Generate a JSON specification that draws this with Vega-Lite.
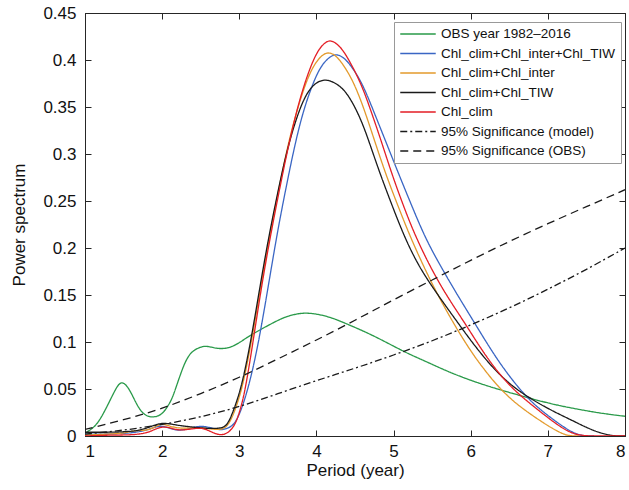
{
  "$schema": "https://vega.github.io/schema/vega-lite/v6.json",
  "width": 540,
  "height": 423,
  "autosize": {"type": "none"},
  "padding": {"left": 85, "top": 13, "right": 4, "bottom": 54},
  "background": "white",
  "config": {
    "font": "Liberation Sans",
    "view": {"stroke": "#262626", "strokeWidth": 1},
    "axis": {
      "domainColor": "#262626",
      "tickColor": "#262626",
      "labelColor": "#111111",
      "titleColor": "#111111",
      "labelFont": "Liberation Sans",
      "titleFont": "Liberation Sans",
      "labelFontSize": 17,
      "titleFontSize": 17,
      "titleFontWeight": "normal",
      "grid": false,
      "tickSize": -6
    }
  },
  "datasets": {
    "spec": [
      {"series": "OBS year 1982–2016", "x": 1.0, "y": 0.003},
      {"series": "OBS year 1982–2016", "x": 1.1, "y": 0.008},
      {"series": "OBS year 1982–2016", "x": 1.19, "y": 0.016},
      {"series": "OBS year 1982–2016", "x": 1.32, "y": 0.037},
      {"series": "OBS year 1982–2016", "x": 1.42, "y": 0.054},
      {"series": "OBS year 1982–2016", "x": 1.48, "y": 0.058},
      {"series": "OBS year 1982–2016", "x": 1.55, "y": 0.053},
      {"series": "OBS year 1982–2016", "x": 1.61, "y": 0.044},
      {"series": "OBS year 1982–2016", "x": 1.71, "y": 0.027},
      {"series": "OBS year 1982–2016", "x": 1.8, "y": 0.021},
      {"series": "OBS year 1982–2016", "x": 1.87, "y": 0.02},
      {"series": "OBS year 1982–2016", "x": 1.95, "y": 0.021},
      {"series": "OBS year 1982–2016", "x": 2.02, "y": 0.025},
      {"series": "OBS year 1982–2016", "x": 2.1, "y": 0.035},
      {"series": "OBS year 1982–2016", "x": 2.15, "y": 0.044},
      {"series": "OBS year 1982–2016", "x": 2.27, "y": 0.074},
      {"series": "OBS year 1982–2016", "x": 2.34, "y": 0.085},
      {"series": "OBS year 1982–2016", "x": 2.4, "y": 0.091},
      {"series": "OBS year 1982–2016", "x": 2.53, "y": 0.096},
      {"series": "OBS year 1982–2016", "x": 2.62, "y": 0.095},
      {"series": "OBS year 1982–2016", "x": 2.71, "y": 0.093},
      {"series": "OBS year 1982–2016", "x": 2.8, "y": 0.093},
      {"series": "OBS year 1982–2016", "x": 2.88, "y": 0.094},
      {"series": "OBS year 1982–2016", "x": 3.0, "y": 0.099},
      {"series": "OBS year 1982–2016", "x": 3.1, "y": 0.105},
      {"series": "OBS year 1982–2016", "x": 3.27, "y": 0.113},
      {"series": "OBS year 1982–2016", "x": 3.45, "y": 0.121},
      {"series": "OBS year 1982–2016", "x": 3.6, "y": 0.127},
      {"series": "OBS year 1982–2016", "x": 3.75, "y": 0.13},
      {"series": "OBS year 1982–2016", "x": 3.85, "y": 0.131},
      {"series": "OBS year 1982–2016", "x": 4.0, "y": 0.13},
      {"series": "OBS year 1982–2016", "x": 4.2, "y": 0.126},
      {"series": "OBS year 1982–2016", "x": 4.4, "y": 0.119},
      {"series": "OBS year 1982–2016", "x": 4.6, "y": 0.112},
      {"series": "OBS year 1982–2016", "x": 4.83, "y": 0.103},
      {"series": "OBS year 1982–2016", "x": 5.15, "y": 0.089},
      {"series": "OBS year 1982–2016", "x": 5.4, "y": 0.08},
      {"series": "OBS year 1982–2016", "x": 5.69, "y": 0.069},
      {"series": "OBS year 1982–2016", "x": 6.0, "y": 0.059},
      {"series": "OBS year 1982–2016", "x": 6.34, "y": 0.05},
      {"series": "OBS year 1982–2016", "x": 6.77, "y": 0.04},
      {"series": "OBS year 1982–2016", "x": 7.1, "y": 0.033},
      {"series": "OBS year 1982–2016", "x": 7.42, "y": 0.028},
      {"series": "OBS year 1982–2016", "x": 7.7, "y": 0.024},
      {"series": "OBS year 1982–2016", "x": 8.0, "y": 0.021},

      {"series": "Chl_clim+Chl_inter+Chl_TIW", "x": 1.0, "y": 0.002},
      {"series": "Chl_clim+Chl_inter+Chl_TIW", "x": 1.3, "y": 0.002},
      {"series": "Chl_clim+Chl_inter+Chl_TIW", "x": 1.6, "y": 0.003},
      {"series": "Chl_clim+Chl_inter+Chl_TIW", "x": 1.8, "y": 0.006},
      {"series": "Chl_clim+Chl_inter+Chl_TIW", "x": 1.95, "y": 0.011},
      {"series": "Chl_clim+Chl_inter+Chl_TIW", "x": 2.05, "y": 0.01},
      {"series": "Chl_clim+Chl_inter+Chl_TIW", "x": 2.2, "y": 0.005},
      {"series": "Chl_clim+Chl_inter+Chl_TIW", "x": 2.35, "y": 0.008},
      {"series": "Chl_clim+Chl_inter+Chl_TIW", "x": 2.5, "y": 0.011},
      {"series": "Chl_clim+Chl_inter+Chl_TIW", "x": 2.62, "y": 0.009},
      {"series": "Chl_clim+Chl_inter+Chl_TIW", "x": 2.75, "y": 0.006},
      {"series": "Chl_clim+Chl_inter+Chl_TIW", "x": 2.85, "y": 0.008},
      {"series": "Chl_clim+Chl_inter+Chl_TIW", "x": 2.93, "y": 0.012},
      {"series": "Chl_clim+Chl_inter+Chl_TIW", "x": 3.0, "y": 0.022},
      {"series": "Chl_clim+Chl_inter+Chl_TIW", "x": 3.11, "y": 0.048},
      {"series": "Chl_clim+Chl_inter+Chl_TIW", "x": 3.26, "y": 0.101},
      {"series": "Chl_clim+Chl_inter+Chl_TIW", "x": 3.47, "y": 0.207},
      {"series": "Chl_clim+Chl_inter+Chl_TIW", "x": 3.6, "y": 0.262},
      {"series": "Chl_clim+Chl_inter+Chl_TIW", "x": 3.73, "y": 0.314},
      {"series": "Chl_clim+Chl_inter+Chl_TIW", "x": 3.85, "y": 0.352},
      {"series": "Chl_clim+Chl_inter+Chl_TIW", "x": 4.0, "y": 0.385},
      {"series": "Chl_clim+Chl_inter+Chl_TIW", "x": 4.1, "y": 0.398},
      {"series": "Chl_clim+Chl_inter+Chl_TIW", "x": 4.2, "y": 0.405},
      {"series": "Chl_clim+Chl_inter+Chl_TIW", "x": 4.27, "y": 0.406},
      {"series": "Chl_clim+Chl_inter+Chl_TIW", "x": 4.35, "y": 0.403},
      {"series": "Chl_clim+Chl_inter+Chl_TIW", "x": 4.45, "y": 0.394},
      {"series": "Chl_clim+Chl_inter+Chl_TIW", "x": 4.59, "y": 0.376},
      {"series": "Chl_clim+Chl_inter+Chl_TIW", "x": 4.72, "y": 0.35},
      {"series": "Chl_clim+Chl_inter+Chl_TIW", "x": 4.9, "y": 0.313},
      {"series": "Chl_clim+Chl_inter+Chl_TIW", "x": 5.07, "y": 0.278},
      {"series": "Chl_clim+Chl_inter+Chl_TIW", "x": 5.25, "y": 0.242},
      {"series": "Chl_clim+Chl_inter+Chl_TIW", "x": 5.43, "y": 0.207},
      {"series": "Chl_clim+Chl_inter+Chl_TIW", "x": 5.67, "y": 0.172},
      {"series": "Chl_clim+Chl_inter+Chl_TIW", "x": 5.85, "y": 0.147},
      {"series": "Chl_clim+Chl_inter+Chl_TIW", "x": 6.03, "y": 0.123},
      {"series": "Chl_clim+Chl_inter+Chl_TIW", "x": 6.2, "y": 0.1},
      {"series": "Chl_clim+Chl_inter+Chl_TIW", "x": 6.38, "y": 0.077},
      {"series": "Chl_clim+Chl_inter+Chl_TIW", "x": 6.6, "y": 0.053},
      {"series": "Chl_clim+Chl_inter+Chl_TIW", "x": 6.79, "y": 0.036},
      {"series": "Chl_clim+Chl_inter+Chl_TIW", "x": 6.95, "y": 0.025},
      {"series": "Chl_clim+Chl_inter+Chl_TIW", "x": 7.11, "y": 0.015},
      {"series": "Chl_clim+Chl_inter+Chl_TIW", "x": 7.27, "y": 0.006},
      {"series": "Chl_clim+Chl_inter+Chl_TIW", "x": 7.42, "y": 0.0},
      {"series": "Chl_clim+Chl_inter+Chl_TIW", "x": 7.6, "y": 0.0},

      {"series": "Chl_clim+Chl_inter", "x": 1.0, "y": 0.001},
      {"series": "Chl_clim+Chl_inter", "x": 1.3, "y": 0.002},
      {"series": "Chl_clim+Chl_inter", "x": 1.5, "y": 0.003},
      {"series": "Chl_clim+Chl_inter", "x": 1.6, "y": 0.005},
      {"series": "Chl_clim+Chl_inter", "x": 1.7, "y": 0.006},
      {"series": "Chl_clim+Chl_inter", "x": 1.8, "y": 0.006},
      {"series": "Chl_clim+Chl_inter", "x": 1.9, "y": 0.009},
      {"series": "Chl_clim+Chl_inter", "x": 1.97, "y": 0.013},
      {"series": "Chl_clim+Chl_inter", "x": 2.05, "y": 0.012},
      {"series": "Chl_clim+Chl_inter", "x": 2.15, "y": 0.009},
      {"series": "Chl_clim+Chl_inter", "x": 2.3, "y": 0.008},
      {"series": "Chl_clim+Chl_inter", "x": 2.45, "y": 0.009},
      {"series": "Chl_clim+Chl_inter", "x": 2.58, "y": 0.008},
      {"series": "Chl_clim+Chl_inter", "x": 2.68, "y": 0.007},
      {"series": "Chl_clim+Chl_inter", "x": 2.76, "y": 0.007},
      {"series": "Chl_clim+Chl_inter", "x": 2.83, "y": 0.009},
      {"series": "Chl_clim+Chl_inter", "x": 2.9, "y": 0.018},
      {"series": "Chl_clim+Chl_inter", "x": 2.97, "y": 0.033},
      {"series": "Chl_clim+Chl_inter", "x": 3.05, "y": 0.055},
      {"series": "Chl_clim+Chl_inter", "x": 3.16, "y": 0.101},
      {"series": "Chl_clim+Chl_inter", "x": 3.27, "y": 0.155},
      {"series": "Chl_clim+Chl_inter", "x": 3.38, "y": 0.207},
      {"series": "Chl_clim+Chl_inter", "x": 3.51, "y": 0.262},
      {"series": "Chl_clim+Chl_inter", "x": 3.64, "y": 0.314},
      {"series": "Chl_clim+Chl_inter", "x": 3.78, "y": 0.356},
      {"series": "Chl_clim+Chl_inter", "x": 3.9, "y": 0.384},
      {"series": "Chl_clim+Chl_inter", "x": 4.0, "y": 0.399},
      {"series": "Chl_clim+Chl_inter", "x": 4.1, "y": 0.407},
      {"series": "Chl_clim+Chl_inter", "x": 4.17, "y": 0.408},
      {"series": "Chl_clim+Chl_inter", "x": 4.25, "y": 0.405},
      {"series": "Chl_clim+Chl_inter", "x": 4.35, "y": 0.395},
      {"series": "Chl_clim+Chl_inter", "x": 4.48, "y": 0.377},
      {"series": "Chl_clim+Chl_inter", "x": 4.61, "y": 0.35},
      {"series": "Chl_clim+Chl_inter", "x": 4.75, "y": 0.315},
      {"series": "Chl_clim+Chl_inter", "x": 4.9, "y": 0.278},
      {"series": "Chl_clim+Chl_inter", "x": 5.07, "y": 0.242},
      {"series": "Chl_clim+Chl_inter", "x": 5.24, "y": 0.207},
      {"series": "Chl_clim+Chl_inter", "x": 5.5, "y": 0.161},
      {"series": "Chl_clim+Chl_inter", "x": 5.76, "y": 0.122},
      {"series": "Chl_clim+Chl_inter", "x": 6.0, "y": 0.09},
      {"series": "Chl_clim+Chl_inter", "x": 6.19, "y": 0.069},
      {"series": "Chl_clim+Chl_inter", "x": 6.36, "y": 0.052},
      {"series": "Chl_clim+Chl_inter", "x": 6.6, "y": 0.033},
      {"series": "Chl_clim+Chl_inter", "x": 6.94, "y": 0.014},
      {"series": "Chl_clim+Chl_inter", "x": 7.1, "y": 0.006},
      {"series": "Chl_clim+Chl_inter", "x": 7.25, "y": 0.0},
      {"series": "Chl_clim+Chl_inter", "x": 7.4, "y": 0.0},

      {"series": "Chl_clim+Chl_TIW", "x": 1.0, "y": 0.004},
      {"series": "Chl_clim+Chl_TIW", "x": 1.2, "y": 0.004},
      {"series": "Chl_clim+Chl_TIW", "x": 1.4, "y": 0.004},
      {"series": "Chl_clim+Chl_TIW", "x": 1.6, "y": 0.005},
      {"series": "Chl_clim+Chl_TIW", "x": 1.71, "y": 0.006},
      {"series": "Chl_clim+Chl_TIW", "x": 1.85, "y": 0.01},
      {"series": "Chl_clim+Chl_TIW", "x": 1.99, "y": 0.014},
      {"series": "Chl_clim+Chl_TIW", "x": 2.1, "y": 0.013},
      {"series": "Chl_clim+Chl_TIW", "x": 2.23, "y": 0.011},
      {"series": "Chl_clim+Chl_TIW", "x": 2.45, "y": 0.009},
      {"series": "Chl_clim+Chl_TIW", "x": 2.6, "y": 0.008},
      {"series": "Chl_clim+Chl_TIW", "x": 2.71, "y": 0.008},
      {"series": "Chl_clim+Chl_TIW", "x": 2.8, "y": 0.009},
      {"series": "Chl_clim+Chl_TIW", "x": 2.86, "y": 0.014},
      {"series": "Chl_clim+Chl_TIW", "x": 2.93, "y": 0.028},
      {"series": "Chl_clim+Chl_TIW", "x": 3.03, "y": 0.052},
      {"series": "Chl_clim+Chl_TIW", "x": 3.15, "y": 0.101},
      {"series": "Chl_clim+Chl_TIW", "x": 3.26, "y": 0.155},
      {"series": "Chl_clim+Chl_TIW", "x": 3.37, "y": 0.207},
      {"series": "Chl_clim+Chl_TIW", "x": 3.5, "y": 0.26},
      {"series": "Chl_clim+Chl_TIW", "x": 3.62, "y": 0.305},
      {"series": "Chl_clim+Chl_TIW", "x": 3.75, "y": 0.341},
      {"series": "Chl_clim+Chl_TIW", "x": 3.87, "y": 0.365},
      {"series": "Chl_clim+Chl_TIW", "x": 4.0, "y": 0.377},
      {"series": "Chl_clim+Chl_TIW", "x": 4.14, "y": 0.38},
      {"series": "Chl_clim+Chl_TIW", "x": 4.3, "y": 0.373},
      {"series": "Chl_clim+Chl_TIW", "x": 4.4, "y": 0.364},
      {"series": "Chl_clim+Chl_TIW", "x": 4.5, "y": 0.35},
      {"series": "Chl_clim+Chl_TIW", "x": 4.6, "y": 0.332},
      {"series": "Chl_clim+Chl_TIW", "x": 4.7, "y": 0.309},
      {"series": "Chl_clim+Chl_TIW", "x": 4.82, "y": 0.28},
      {"series": "Chl_clim+Chl_TIW", "x": 5.0, "y": 0.241},
      {"series": "Chl_clim+Chl_TIW", "x": 5.16, "y": 0.208},
      {"series": "Chl_clim+Chl_TIW", "x": 5.35, "y": 0.177},
      {"series": "Chl_clim+Chl_TIW", "x": 5.6, "y": 0.147},
      {"series": "Chl_clim+Chl_TIW", "x": 5.82, "y": 0.122},
      {"series": "Chl_clim+Chl_TIW", "x": 6.05, "y": 0.096},
      {"series": "Chl_clim+Chl_TIW", "x": 6.3, "y": 0.071},
      {"series": "Chl_clim+Chl_TIW", "x": 6.55, "y": 0.052},
      {"series": "Chl_clim+Chl_TIW", "x": 6.79, "y": 0.039},
      {"series": "Chl_clim+Chl_TIW", "x": 7.05, "y": 0.027},
      {"series": "Chl_clim+Chl_TIW", "x": 7.33, "y": 0.016},
      {"series": "Chl_clim+Chl_TIW", "x": 7.5, "y": 0.009},
      {"series": "Chl_clim+Chl_TIW", "x": 7.68, "y": 0.003},
      {"series": "Chl_clim+Chl_TIW", "x": 7.85, "y": 0.0},
      {"series": "Chl_clim+Chl_TIW", "x": 8.0, "y": 0.0},

      {"series": "Chl_clim", "x": 1.0, "y": 0.0},
      {"series": "Chl_clim", "x": 1.3, "y": 0.001},
      {"series": "Chl_clim", "x": 1.6, "y": 0.001},
      {"series": "Chl_clim", "x": 1.8, "y": 0.003},
      {"series": "Chl_clim", "x": 1.9, "y": 0.007},
      {"series": "Chl_clim", "x": 2.0, "y": 0.01},
      {"series": "Chl_clim", "x": 2.1, "y": 0.009},
      {"series": "Chl_clim", "x": 2.2, "y": 0.006},
      {"series": "Chl_clim", "x": 2.35, "y": 0.007},
      {"series": "Chl_clim", "x": 2.5, "y": 0.009},
      {"series": "Chl_clim", "x": 2.6, "y": 0.006},
      {"series": "Chl_clim", "x": 2.7, "y": 0.002},
      {"series": "Chl_clim", "x": 2.77, "y": 0.001},
      {"series": "Chl_clim", "x": 2.85, "y": 0.003},
      {"series": "Chl_clim", "x": 2.92, "y": 0.009},
      {"series": "Chl_clim", "x": 2.97, "y": 0.017},
      {"series": "Chl_clim", "x": 3.02, "y": 0.03},
      {"series": "Chl_clim", "x": 3.08, "y": 0.05},
      {"series": "Chl_clim", "x": 3.18, "y": 0.101},
      {"series": "Chl_clim", "x": 3.28, "y": 0.155},
      {"series": "Chl_clim", "x": 3.39, "y": 0.207},
      {"series": "Chl_clim", "x": 3.52, "y": 0.262},
      {"series": "Chl_clim", "x": 3.65, "y": 0.314},
      {"series": "Chl_clim", "x": 3.78, "y": 0.358},
      {"series": "Chl_clim", "x": 3.92, "y": 0.393},
      {"series": "Chl_clim", "x": 4.03, "y": 0.412},
      {"series": "Chl_clim", "x": 4.13, "y": 0.42},
      {"series": "Chl_clim", "x": 4.2, "y": 0.421},
      {"series": "Chl_clim", "x": 4.3, "y": 0.415},
      {"series": "Chl_clim", "x": 4.39, "y": 0.405},
      {"series": "Chl_clim", "x": 4.57, "y": 0.377},
      {"series": "Chl_clim", "x": 4.69, "y": 0.35},
      {"series": "Chl_clim", "x": 4.84, "y": 0.314},
      {"series": "Chl_clim", "x": 4.98, "y": 0.278},
      {"series": "Chl_clim", "x": 5.14, "y": 0.242},
      {"series": "Chl_clim", "x": 5.31, "y": 0.207},
      {"series": "Chl_clim", "x": 5.6, "y": 0.16},
      {"series": "Chl_clim", "x": 5.91, "y": 0.122},
      {"series": "Chl_clim", "x": 6.1, "y": 0.097},
      {"series": "Chl_clim", "x": 6.3, "y": 0.073},
      {"series": "Chl_clim", "x": 6.53, "y": 0.051},
      {"series": "Chl_clim", "x": 6.79, "y": 0.033},
      {"series": "Chl_clim", "x": 7.07, "y": 0.015},
      {"series": "Chl_clim", "x": 7.25, "y": 0.005},
      {"series": "Chl_clim", "x": 7.42, "y": 0.0},
      {"series": "Chl_clim", "x": 7.7, "y": 0.0},
      {"series": "Chl_clim", "x": 8.0, "y": 0.0},

      {"series": "95% Significance (model)", "x": 1.0, "y": 0.002},
      {"series": "95% Significance (model)", "x": 1.5, "y": 0.006},
      {"series": "95% Significance (model)", "x": 2.0, "y": 0.012},
      {"series": "95% Significance (model)", "x": 2.5, "y": 0.02},
      {"series": "95% Significance (model)", "x": 3.0, "y": 0.031},
      {"series": "95% Significance (model)", "x": 3.5, "y": 0.045},
      {"series": "95% Significance (model)", "x": 4.0, "y": 0.059},
      {"series": "95% Significance (model)", "x": 4.5, "y": 0.072},
      {"series": "95% Significance (model)", "x": 5.0, "y": 0.086},
      {"series": "95% Significance (model)", "x": 5.5, "y": 0.101},
      {"series": "95% Significance (model)", "x": 6.0, "y": 0.118},
      {"series": "95% Significance (model)", "x": 6.5, "y": 0.136},
      {"series": "95% Significance (model)", "x": 7.0, "y": 0.156},
      {"series": "95% Significance (model)", "x": 7.5, "y": 0.177},
      {"series": "95% Significance (model)", "x": 8.0, "y": 0.2},

      {"series": "95% Significance (OBS)", "x": 1.0, "y": 0.007},
      {"series": "95% Significance (OBS)", "x": 1.5, "y": 0.017},
      {"series": "95% Significance (OBS)", "x": 2.0, "y": 0.029},
      {"series": "95% Significance (OBS)", "x": 2.5, "y": 0.045},
      {"series": "95% Significance (OBS)", "x": 3.0, "y": 0.062},
      {"series": "95% Significance (OBS)", "x": 3.5, "y": 0.082},
      {"series": "95% Significance (OBS)", "x": 4.0, "y": 0.102},
      {"series": "95% Significance (OBS)", "x": 4.5, "y": 0.123},
      {"series": "95% Significance (OBS)", "x": 5.0, "y": 0.145},
      {"series": "95% Significance (OBS)", "x": 5.5, "y": 0.166},
      {"series": "95% Significance (OBS)", "x": 6.0, "y": 0.187},
      {"series": "95% Significance (OBS)", "x": 6.5, "y": 0.207},
      {"series": "95% Significance (OBS)", "x": 7.0, "y": 0.226},
      {"series": "95% Significance (OBS)", "x": 7.5, "y": 0.244},
      {"series": "95% Significance (OBS)", "x": 8.0, "y": 0.262}
    ]
  },
  "data": {"name": "spec"},
  "layer": [
    {
      "mark": {"type": "line", "interpolate": "basis", "strokeWidth": 1.3, "clip": true},
      "encoding": {
        "x": {
          "field": "x", "type": "quantitative",
          "scale": {"domain": [1, 8], "nice": false, "zero": false},
          "axis": {"title": "Period (year)", "values": [1, 2, 3, 4, 5, 6, 7, 8], "format": "d", "labelPadding": 13, "titlePadding": 3}
        },
        "y": {
          "field": "y", "type": "quantitative",
          "scale": {"domain": [0, 0.45], "nice": false},
          "axis": {"title": "Power spectrum", "values": [0, 0.05, 0.1, 0.15, 0.2, 0.25, 0.3, 0.35, 0.4, 0.45], "format": "~g", "labelPadding": 15, "titlePadding": 14}
        },
        "color": {
          "field": "series", "type": "nominal",
          "scale": {
            "domain": ["OBS year 1982–2016", "Chl_clim+Chl_inter+Chl_TIW", "Chl_clim+Chl_inter", "Chl_clim+Chl_TIW", "Chl_clim", "95% Significance (model)", "95% Significance (OBS)"],
            "range": ["#2a9a4a", "#3a66c4", "#e39a2c", "#1a1a1a", "#e41e26", "#1a1a1a", "#1a1a1a"]
          },
          "legend": {
            "title": null, "orient": "none", "legendX": 309, "legendY": 9,
            "strokeColor": "#999999", "fillColor": "white", "padding": 5,
            "symbolType": "M-3,0H3", "symbolSize": 140, "symbolOffset": 12, "symbolStrokeWidth": 1.3,
            "labelOffset": 16, "labelFontSize": 13.5, "labelFont": "Liberation Sans", "labelColor": "#111111", "labelLimit": 300,
            "rowPadding": 5.5
          }
        },
        "strokeDash": {
          "field": "series", "type": "nominal",
          "scale": {
            "domain": ["OBS year 1982–2016", "Chl_clim+Chl_inter+Chl_TIW", "Chl_clim+Chl_inter", "Chl_clim+Chl_TIW", "Chl_clim", "95% Significance (model)", "95% Significance (OBS)"],
            "range": [[1, 0], [1, 0], [1, 0], [1, 0], [1, 0], [7, 3, 2, 3], [8, 5]]
          },
          "legend": {
            "title": null, "orient": "none", "legendX": 309, "legendY": 9,
            "strokeColor": "#999999", "fillColor": "white", "padding": 5,
            "symbolType": "M-3,0H3", "symbolSize": 140, "symbolOffset": 12, "symbolStrokeWidth": 1.3,
            "labelOffset": 16, "labelFontSize": 13.5, "labelFont": "Liberation Sans", "labelColor": "#111111", "labelLimit": 300,
            "rowPadding": 5.5
          }
        }
      }
    },
    {
      "mark": {"type": "line", "opacity": 0},
      "encoding": {
        "x": {"field": "x", "type": "quantitative", "axis": {"orient": "top", "title": null, "labels": false, "values": [1, 2, 3, 4, 5, 6, 7, 8]}},
        "y": {"field": "y", "type": "quantitative", "axis": {"orient": "right", "title": null, "labels": false, "values": [0, 0.05, 0.1, 0.15, 0.2, 0.25, 0.3, 0.35, 0.4, 0.45]}},
        "detail": {"field": "series"}
      }
    }
  ],
  "resolve": {"axis": {"x": "independent", "y": "independent"}}
}
